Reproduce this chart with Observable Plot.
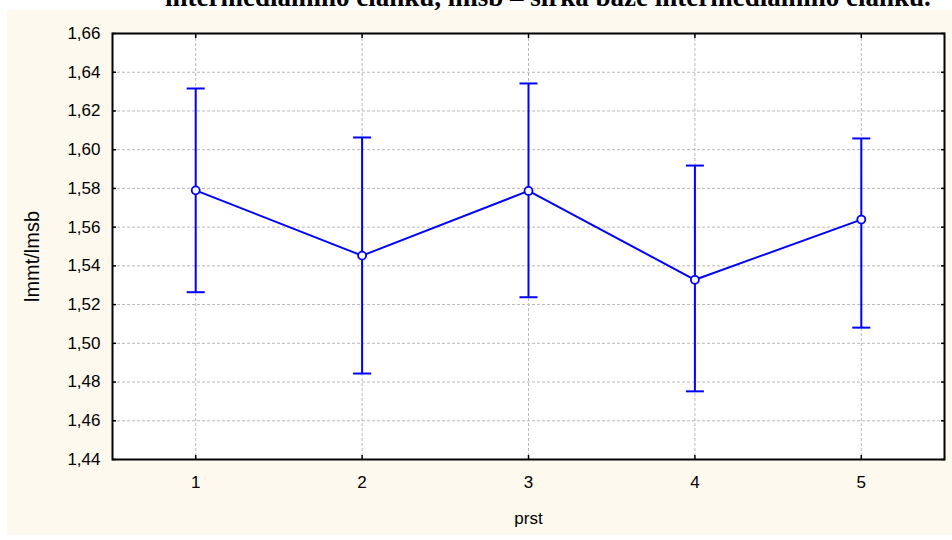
<!DOCTYPE html>
<html><head><meta charset="utf-8">
<script src="https://cdn.jsdelivr.net/npm/d3@7"></script>
<script src="https://cdn.jsdelivr.net/npm/@observablehq/plot@0.6"></script>
<style>
html,body{margin:0;padding:0;background:#fff;}
#page{position:relative;width:952px;height:540px;overflow:hidden;}
#title{position:absolute;left:165px;top:-16px;font-family:"Liberation Serif","Times New Roman",serif;font-weight:bold;font-size:27px;line-height:27px;white-space:nowrap;color:#000;}
#chart{position:absolute;left:7px;top:10px;}
</style></head><body>
<div id="page"><div id="title">intermediálního článku, lmsb – šířka báze intermediálního článku.</div><div id="chart"></div></div>
<script>
const prst = [1, 2, 3, 4, 5];
const mean = [1.5790, 1.5453, 1.5787, 1.5328, 1.5639];
const upper = [1.6316, 1.6063, 1.6342, 1.5918, 1.6058];
const lower = [1.5264, 1.4844, 1.5238, 1.4752, 1.5081];
const xTicks = [1, 2, 3, 4, 5];
const yTicks = [1.44, 1.46, 1.48, 1.50, 1.52, 1.54, 1.56, 1.58, 1.60, 1.62, 1.64, 1.66];
const xLabel = "prst";
const yLabel = "lmmt/lmsb";

const data = prst.map((p, i) => ({prst: p, mean: mean[i], upper: upper[i], lower: lower[i]}));
const fmt = d => d.toFixed(2).replace(".", ",");
const blue = "#0000ff";
const gridColor = "#b8b8b8";
const capSymbol = {draw(ctx) { ctx.moveTo(-9, 0); ctx.lineTo(9, 0); }};
const font = "'Liberation Sans', Arial, sans-serif";

const chart = Plot.plot({
  width: 945, height: 525,
  marginLeft: 105, marginTop: 23, marginRight: 8, marginBottom: 76,
  style: {background: "#fdf9ee", fontFamily: font, fontSize: "17px", color: "#000", overflow: "visible"},
  x: {domain: [0.5, 5.5]},
  y: {domain: [1.44, 1.66]},
  marks: [
    Plot.frame({fill: "white"}),
    Plot.gridX(xTicks, {stroke: gridColor, strokeOpacity: 1, strokeDasharray: "3,2"}),
    Plot.gridY(yTicks, {stroke: gridColor, strokeOpacity: 1, strokeDasharray: "3,2"}),
    Plot.axisY(yTicks, {anchor: "left", tickSize: 0, tickPadding: 12, tickFormat: fmt, label: null, fontSize: 17}),
    Plot.axisY(yTicks, {anchor: "left", tickSize: -4, tickFormat: () => "", label: null, strokeWidth: 1.5}),
    Plot.axisY(yTicks, {anchor: "right", tickSize: -4, tickFormat: () => "", label: null, strokeWidth: 1.5}),
    Plot.axisX(xTicks, {anchor: "bottom", tickSize: 0, tickPadding: 16, tickFormat: d => String(d), label: null, fontSize: 17}),
    Plot.axisX(xTicks, {anchor: "bottom", tickSize: -4, tickFormat: () => "", label: null, strokeWidth: 1.5}),
    Plot.axisX(xTicks, {anchor: "top", tickSize: -4, tickFormat: () => "", label: null, strokeWidth: 1.5}),
    Plot.ruleX(data, {x: "prst", y1: "lower", y2: "upper", stroke: blue, strokeWidth: 2}),
    Plot.dot(data, {x: "prst", y: "upper", symbol: capSymbol, stroke: blue, strokeWidth: 2, fill: "none"}),
    Plot.dot(data, {x: "prst", y: "lower", symbol: capSymbol, stroke: blue, strokeWidth: 2, fill: "none"}),
    Plot.line(data, {x: "prst", y: "mean", stroke: blue, strokeWidth: 2}),
    Plot.dot(data, {x: "prst", y: "mean", r: 4, fill: "white", stroke: blue, strokeWidth: 1.8}),
    Plot.frame({stroke: "black", strokeWidth: 2}),
    Plot.text([xLabel], {text: d => d, frameAnchor: "bottom", textAnchor: "middle", lineAnchor: "bottom", dy: 64, fontSize: 17}),
    Plot.text([yLabel], {text: d => d, frameAnchor: "left", textAnchor: "middle", rotate: -90, dx: -79.5, dy: 10, fontSize: 20})
  ]
});
document.getElementById("chart").appendChild(chart);
</script>
</body></html>
